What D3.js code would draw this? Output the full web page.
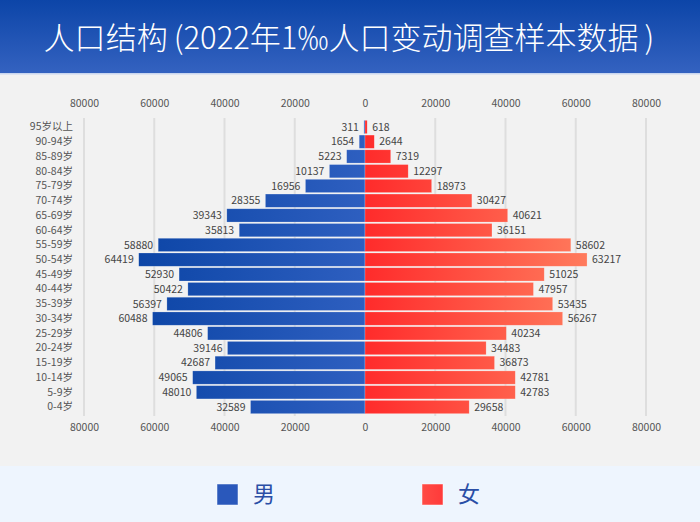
<!DOCTYPE html>
<html><head><meta charset="utf-8">
<script src="https://cdn.jsdelivr.net/npm/d3@7/dist/d3.min.js"></script>
<style>
html,body{margin:0;padding:0;background:#f2f2f2;}
svg{display:block;font-family:"Noto Sans CJK SC","Noto Sans",sans-serif;}
</style></head>
<body><svg id="c" width="700" height="522"></svg>
<script>
const categories = ["95岁以上","90-94岁","85-89岁","80-84岁","75-79岁","70-74岁","65-69岁","60-64岁","55-59岁","50-54岁","45-49岁","40-44岁","35-39岁","30-34岁","25-29岁","20-24岁","15-19岁","10-14岁","5-9岁","0-4岁"];
const male = [311,1654,5223,10137,16956,28355,39343,35813,58880,64419,52930,50422,56397,60488,44806,39146,42687,49065,48010,32589];
const female = [618,2644,7319,12297,18973,30427,40621,36151,58602,63217,51025,47957,53435,56267,40234,34483,36873,42781,42783,29658];
const tickValues = [-80000,-60000,-40000,-20000,0,20000,40000,60000,80000];
const titleParts = ["人口结构","(2022年1‰人口变动调查样本数据",")"];
const legendNames = ["男","女"];

const svg = d3.select("#c");
const W = 700, H = 522;
const defs = svg.append("defs");

// header gradient
const hg = defs.append("linearGradient").attr("id","hg").attr("x1",0).attr("y1",0).attr("x2",0).attr("y2",1);
hg.append("stop").attr("offset","0%").attr("stop-color","#0c45a8");
hg.append("stop").attr("offset","100%").attr("stop-color","#3462c0");

svg.append("rect").attr("x",0).attr("y",0).attr("width",W).attr("height",H).attr("fill","#f2f2f2");
svg.append("rect").attr("x",0).attr("y",0).attr("width",W).attr("height",73).attr("fill","url(#hg)");
svg.append("rect").attr("x",0).attr("y",73).attr("width",W).attr("height",1.5).attr("fill","#c9d6ef");
svg.append("rect").attr("x",0).attr("y",466).attr("width",W).attr("height",56).attr("fill","#eef5fe");

const tt = svg.append("text").attr("x",349).attr("y",49).attr("text-anchor","middle")
  .attr("fill","#fff").attr("font-size",32).attr("font-weight",300);
titleParts.forEach((p,i)=>{ tt.append("tspan").attr("dx", i===0?0:6).text(p); });
const tl = tt.node().getComputedTextLength();
if (tl > 0) tt.attr("font-size", Math.min(34, 32*599/tl));

const x = d3.scaleLinear().domain([-80000,80000]).range([84,646]);
const y = d3.scaleBand().domain(categories).range([119.6,414.4]).paddingInner(0.1).paddingOuter(0.05);

// bar gradients (user space)
const bg = defs.append("linearGradient").attr("id","bg").attr("gradientUnits","userSpaceOnUse")
  .attr("x1",x(0)).attr("x2",x(-65000)).attr("y1",0).attr("y2",0);
bg.append("stop").attr("offset","0%").attr("stop-color","#2e5fc0");
bg.append("stop").attr("offset","100%").attr("stop-color","#0c45a6");
const rg = defs.append("linearGradient").attr("id","rg").attr("gradientUnits","userSpaceOnUse")
  .attr("x1",x(0)).attr("x2",x(65000)).attr("y1",0).attr("y2",0);
rg.append("stop").attr("offset","0%").attr("stop-color","#ff2b2b");
rg.append("stop").attr("offset","100%").attr("stop-color","#ff7d5e");

// gridlines
svg.append("g").selectAll("line").data(tickValues.filter(d=>d!==0)).join("line")
  .attr("x1",d=>x(d)).attr("x2",d=>x(d)).attr("y1",118).attr("y2",416)
  .attr("stroke","#dedede").attr("stroke-width",2);

// axes
const fmt = d=>String(Math.abs(d));
const axTop = d3.axisTop(x).tickValues(tickValues).tickFormat(fmt).tickSize(0).tickPadding(0);
const axBot = d3.axisBottom(x).tickValues(tickValues).tickFormat(fmt).tickSize(0).tickPadding(0);
const gt = svg.append("g").attr("transform","translate(0,107)").call(axTop);
const gb = svg.append("g").attr("transform","translate(0,424)").call(axBot);
[gt,gb].forEach(g=>{
  g.select(".domain").remove();
  g.selectAll("text").attr("font-size",10.5).attr("fill","#555").attr("font-family","'Noto Sans CJK SC','Noto Sans',sans-serif");
});

// category axis
const gy = svg.append("g").attr("transform","translate(73,0)").call(d3.axisLeft(y).tickSize(0).tickPadding(0));
gy.select(".domain").remove();
gy.selectAll("text").attr("font-size",10.5).attr("fill","#555").attr("font-family","'Noto Sans CJK SC','Noto Sans',sans-serif");

const rows = categories.map((c,i)=>({c, m:male[i], f:female[i]}));

// bars
svg.append("g").selectAll("rect").data(rows).join("rect")
  .attr("x",d=>x(-d.m)).attr("width",d=>x(0)-x(-d.m))
  .attr("y",d=>y(d.c)).attr("height",y.bandwidth())
  .attr("fill","url(#bg)").attr("stroke","rgba(255,255,255,0.35)").attr("stroke-width",0.6);
svg.append("g").selectAll("rect").data(rows).join("rect")
  .attr("x",x(0)).attr("width",d=>x(d.f)-x(0))
  .attr("y",d=>y(d.c)).attr("height",y.bandwidth())
  .attr("fill","url(#rg)").attr("stroke","rgba(255,255,255,0.35)").attr("stroke-width",0.6);

// value labels
svg.append("g").selectAll("text").data(rows).join("text")
  .attr("x",d=>x(-d.m)-5).attr("y",d=>y(d.c)+y.bandwidth()/2).attr("dy","0.35em")
  .attr("text-anchor","end").attr("font-size",10.5).attr("fill","#444").text(d=>d.m);
svg.append("g").selectAll("text").data(rows).join("text")
  .attr("x",d=>x(d.f)+5).attr("y",d=>y(d.c)+y.bandwidth()/2).attr("dy","0.35em")
  .attr("text-anchor","start").attr("font-size",10.5).attr("fill","#444").text(d=>d.f);

// legend
const lg = svg.append("g");
const lr = defs.append("linearGradient").attr("id","lr").attr("x1",0).attr("x2",1);
lr.append("stop").attr("offset","0%").attr("stop-color","#ff4b45");
lr.append("stop").attr("offset","100%").attr("stop-color","#ff3a3a");
const legendItems = [{n:legendNames[0], fill:"#2a58bb", x:217},{n:legendNames[1], fill:"url(#lr)", x:422}];
legendItems.forEach(it=>{
  lg.append("rect").attr("x",it.x).attr("y",484).attr("width",21).attr("height",21).attr("fill",it.fill)
    .attr("stroke","rgba(255,255,255,0.6)").attr("stroke-width",0.8);
  lg.append("text").attr("x",it.x+36).attr("y",502).attr("font-size",22).attr("fill","#2a4ea6").text(it.n);
});
</script></body></html>
